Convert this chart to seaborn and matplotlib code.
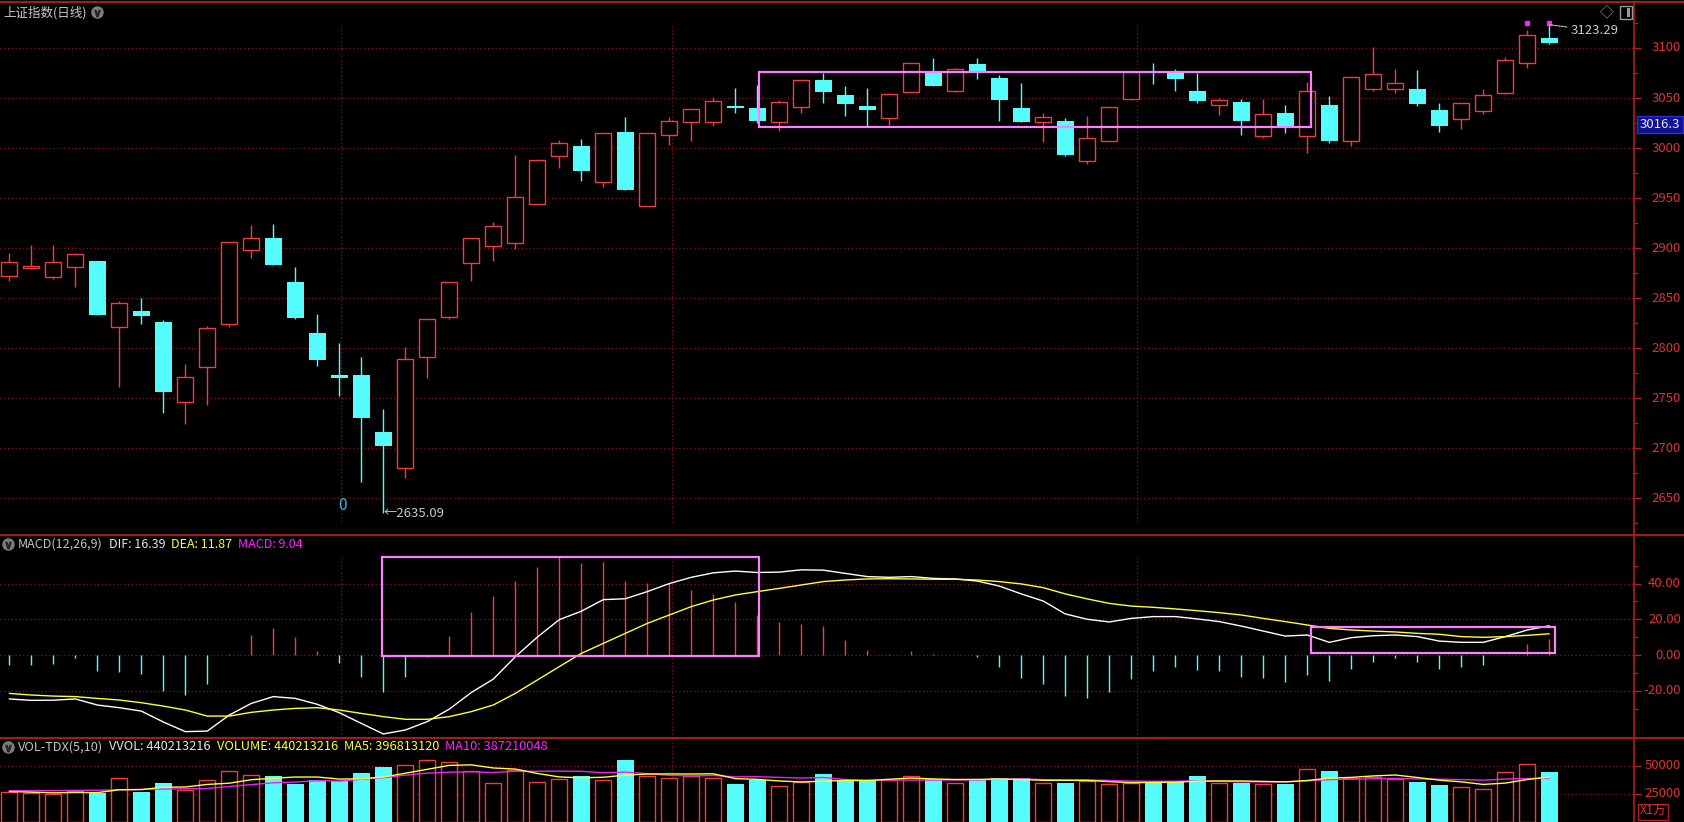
import numpy as np
import pandas as pd
import matplotlib
matplotlib.use("Agg")
import matplotlib.pyplot as plt
import seaborn as sns
from matplotlib.patches import Rectangle
from matplotlib.lines import Line2D
from matplotlib.transforms import blended_transform_factory

# ---------------- data ----------------
opens = [2872.3, 2879.7, 2871.3, 2880.7, 2887.0, 2821.3, 2837.0, 2826.0, 2746.3, 2781.3,
         2823.7, 2897.7, 2910.0, 2866.0, 2815.0, 2773.0, 2773.0, 2716.0, 2679.7, 2790.7,
         2831.3, 2885.3, 2902.3, 2905.3, 2944.3, 2992.3, 3002.0, 2965.7, 3015.7, 2942.3,
         3013.3, 3025.7, 3026.3, 3041.0, 3040.0, 3025.7, 3041.3, 3067.7, 3053.0, 3042.0,
         3030.3, 3056.3, 3077.3, 3057.3, 3084.0, 3070.0, 3040.0, 3026.3, 3027.0, 2987.3,
         3007.3, 3048.7, 3077.0, 3077.0, 3057.0, 3043.3, 3046.0, 3012.3, 3035.0, 3012.3,
         3043.0, 3007.3, 3059.3, 3059.3, 3058.7, 3038.0, 3028.7, 3037.3, 3054.7, 3085.3,
         3109.7]
highs = [2894.7, 2903.0, 2903.0, 2894.7, 2887.5, 2847.3, 2849.7, 2827.7, 2783.7, 2822.0,
         2906.0, 2923.0, 2924.0, 2881.0, 2834.0, 2804.7, 2791.0, 2739.0, 2801.3, 2829.0,
         2866.0, 2910.0, 2926.0, 2993.0, 2988.0, 3008.0, 3009.0, 3015.0, 3030.7, 3015.0,
         3030.7, 3039.0, 3050.7, 3059.7, 3063.0, 3048.0, 3068.0, 3075.3, 3062.0, 3059.7,
         3055.3, 3085.0, 3089.7, 3080.0, 3089.7, 3073.0, 3065.3, 3034.7, 3029.7, 3032.0,
         3041.0, 3077.0, 3085.3, 3078.7, 3075.3, 3049.7, 3048.7, 3049.0, 3043.0, 3066.3,
         3052.0, 3071.0, 3101.3, 3078.7, 3078.0, 3044.7, 3045.0, 3058.7, 3090.7, 3118.0,
         3123.29]
lows = [2867.3, 2879.0, 2869.0, 2861.3, 2833.0, 2761.3, 2823.7, 2735.3, 2724.0, 2743.0,
        2821.3, 2890.3, 2883.0, 2829.0, 2782.0, 2752.0, 2666.3, 2635.09, 2669.7, 2770.3,
        2828.7, 2867.3, 2887.3, 2898.7, 2944.0, 2980.3, 2967.3, 2961.3, 2958.0, 2942.0,
        3002.7, 3007.0, 3022.3, 3034.7, 3025.0, 3017.3, 3035.3, 3045.3, 3032.0, 3020.7,
        3023.0, 3056.0, 3062.0, 3056.0, 3069.3, 3027.3, 3026.0, 3006.3, 2992.0, 2984.0,
        3007.0, 3048.5, 3064.0, 3057.3, 3045.3, 3033.0, 3013.0, 3009.7, 3015.3, 2995.3,
        3005.3, 3002.0, 3057.3, 3055.3, 3042.0, 3016.3, 3019.0, 3034.0, 3054.5, 3080.3,
        3104.0]
closes = [2885.7, 2882.0, 2885.7, 2893.7, 2833.3, 2844.7, 2832.3, 2756.3, 2770.7, 2819.7,
          2905.7, 2909.7, 2883.0, 2830.3, 2788.3, 2770.3, 2730.3, 2702.3, 2788.7, 2828.7,
          2865.7, 2909.7, 2921.7, 2950.7, 2987.7, 3004.7, 2977.0, 3015.0, 2958.3, 3014.7,
          3027.0, 3038.7, 3047.0, 3040.5, 3027.3, 3045.7, 3067.7, 3056.3, 3044.3, 3038.3,
          3053.7, 3084.7, 3062.3, 3078.7, 3076.7, 3048.0, 3026.3, 3030.7, 2993.0, 3010.0,
          3040.7, 3076.3, 3075.5, 3069.0, 3047.3, 3048.0, 3027.0, 3033.7, 3019.7, 3057.0,
          3007.3, 3070.7, 3073.7, 3064.7, 3044.0, 3022.0, 3044.7, 3052.7, 3088.0, 3113.0,
          3105.3]

# volume in units of 万 (x10^4)
volume = [26500, 25600, 24300, 27200, 25600, 39000, 26500, 34600, 28100, 37100,
          44900, 41800, 40900, 33700, 37100, 35900, 43100, 48700, 50600, 54900,
          53400, 45300, 34600, 45600, 35600, 38100, 40900, 37100, 55200, 40900,
          38400, 40300, 38400, 33700, 37100, 31500, 35600, 42100, 37100, 36200,
          37500, 40900, 38100, 34600, 36800, 39000, 39000, 34600, 34600, 36200,
          33400, 34600, 35900, 35600, 40300, 34600, 34600, 33700, 33700, 46500,
          44900, 38400, 40000, 37800, 35600, 32800, 30600, 28700, 44000, 51200,
          44021]
vol_ma5 = [26800, 26200, 25600, 25900, 25800, 28300, 28500, 30600, 30800, 33100,
           34200, 37300, 38600, 39700, 39700, 37900, 38100, 39700, 43100, 46600,
           50100, 50600, 47800, 46800, 42900, 39800, 39000, 39500, 41400, 42400,
           42500, 42400, 42600, 38300, 37600, 36200, 35300, 36000, 36700, 36500,
           37700, 38800, 38000, 37500, 37600, 37900, 37500, 36800, 36800, 36700,
           35600, 34700, 34900, 35100, 36000, 36200, 36200, 35800, 35400, 36600,
           38700, 39400, 40700, 41500, 39300, 36900, 35400, 33100, 34300, 37500,
           39681]
vol_ma10 = [27500, 27500, 27600, 27800, 27900, 28400, 28600, 29000, 29200, 29500,
            31300, 32900, 34600, 35200, 36400, 36100, 37700, 39100, 41400, 43200,
            44000, 44400, 43700, 44900, 44800, 45000, 44800, 43600, 44100, 42700,
            41200, 40700, 41100, 39900, 40000, 39400, 38800, 39300, 37500, 37000,
            37000, 37000, 37000, 37100, 37000, 37800, 38100, 37400, 37100, 37100,
            36700, 36100, 35900, 36000, 36300, 35900, 35400, 35400, 35300, 36300,
            37400, 37800, 38200, 38500, 38000, 37800, 37400, 36900, 37900, 38400,
            38721]

dif = [-24.6, -25.4, -25.3, -24.6, -28.0, -29.5, -31.4, -37.5, -42.9, -42.6,
       -33.6, -27.1, -23.3, -24.3, -27.6, -32.3, -38.3, -44.2, -42.0, -37.3,
       -30.3, -21.0, -13.5, -1.0, 10.0, 19.8, 24.5, 31.0, 31.5, 35.5,
       40.0, 43.5, 46.0, 47.0, 46.2, 46.4, 47.7, 47.5, 45.7, 43.9,
       43.5, 43.9, 42.9, 42.6, 41.4, 38.6, 34.2, 30.2, 23.0, 20.0,
       18.5, 20.5, 21.5, 21.5, 20.2, 18.7, 16.2, 13.4, 10.6, 11.2,
       7.1, 9.7, 10.8, 11.2, 10.3, 7.8, 7.1, 7.1, 10.3, 14.0,
       16.39]
dea = [-21.5, -22.4, -23.0, -23.3, -24.3, -25.2, -26.7, -28.6, -30.8, -34.2,
       -34.2, -32.1, -30.8, -29.9, -29.5, -30.8, -32.7, -34.5, -36.0, -36.0,
       -34.5, -31.7, -28.0, -21.5, -14.0, -6.5, 0.9, 6.5, 12.1, 17.7,
       22.4, 27.1, 30.8, 33.6, 35.5, 37.3, 39.2, 41.1, 42.0, 42.6,
       42.7, 42.6, 42.4, 42.4, 42.0, 41.1, 39.8, 37.7, 34.2, 31.4,
       28.9, 27.4, 26.7, 25.8, 24.8, 23.7, 22.4, 20.5, 18.7, 16.8,
       14.9, 14.0, 13.4, 12.9, 12.1, 11.6, 10.3, 9.9, 10.3, 11.0,
       11.87]
macd_hist = [-5.6, -5.6, -5.0, -1.9, -8.8, -9.3, -10.6, -20.0, -22.4, -16.2,
             0.3, 11.2, 15.3, 10.3, 2.4, -4.3, -12.5, -20.5, -12.5, -1.3,
             10.6, 24.3, 33.0, 41.6, 49.5, 54.7, 51.3, 51.9, 41.6, 40.5,
             40.5, 36.4, 34.2, 29.5, 22.4, 18.7, 17.4, 16.2, 8.4, 2.8,
             0.4, 2.2, 0.3, 0.1, -1.3, -6.5, -12.7, -16.2, -22.8, -24.3,
             -20.5, -13.4, -8.8, -6.5, -8.4, -8.8, -12.1, -12.9, -14.9, -11.2,
             -14.4, -8.0, -3.7, -1.9, -3.7, -7.7, -6.5, -5.6, 0.0, 6.2,
             9.04]

price_ticks = [2650, 2700, 2750, 2800, 2850, 2900, 2950, 3000, 3050, 3100]
macd_ticks = [40, 20, 0, -20]
vol_ticks = [50000, 25000]
month_lines = [15.08, 30.12, 51.24]

# annotation boxes drawn on the chart (data coordinates)
price_box = (34.06, 3021.3, 59.17, 3076.0)
macd_box1 = (16.96, -0.4, 34.07, 55.0)
macd_box2 = (59.16, 0.95, 70.25, 15.85)

# ---------------- style ----------------
sns.set_theme(style="dark")
plt.rcParams["font.family"] = ["Noto Sans CJK SC", "DejaVu Sans"]
plt.rcParams["axes.unicode_minus"] = False

BG = "black"
RED = "#f03c3c"
CYAN = "#54fcfc"
GRID = "#8a1212"
AXIS = "#b41e1e"
TICK = "#dc3232"
PINK = "#ff80ff"
YEL = "#ffff33"
MAG = "#ee22ee"

W, H = 1684, 822
fig = plt.figure(figsize=(W / 100, H / 100), dpi=100, facecolor=BG)

def fx(px):
    return px / W

def fy(py):
    return 1 - py / H

AX_R = 1634
axw = AX_R / W
ax_p = fig.add_axes([0, fy(535), axw, fy(2.5) - fy(535)])
ax_m = fig.add_axes([0, fy(738), axw, fy(535) - fy(738)])
ax_v = fig.add_axes([0, 0, axw, fy(738)])

n = len(closes)
idx = np.arange(n)
XL = (-9.3 / 22, (AX_R - 9.3) / 22)

for ax in (ax_p, ax_m, ax_v):
    ax.set_facecolor(BG)
    ax.grid(False)
    ax.set_xlim(*XL)
    for s in ("top", "bottom", "left"):
        ax.spines[s].set_visible(False)
    ax.spines["right"].set_color(AXIS)
    ax.spines["right"].set_linewidth(1.2)
    ax.set_xticks([])
    ax.yaxis.set_ticks_position("right")
    ax.tick_params(axis="y", which="both", colors=AXIS, direction="out",
                   labelright=False, labelleft=False, width=1)
    ax.tick_params(axis="y", which="major", length=5)
    ax.tick_params(axis="y", which="minor", length=3)

ax_p.set_ylim(2613, 3145.5)
ax_m.set_ylim(-46.47, 67.19)
ax_v.set_ylim(-446, 74554)

df = pd.DataFrame({"i": idx, "o": opens, "h": highs, "l": lows, "c": closes,
                   "v": volume, "ma5": vol_ma5, "ma10": vol_ma10,
                   "dif": dif, "dea": dea, "hist": macd_hist})
up = df["c"] >= df["o"]
dn = ~up

dot = (0, (1, 2))
# ---------------- price panel ----------------
ax_p.hlines(price_ticks, XL[0], XL[1], colors=GRID, linestyles=dot, lw=0.9, zorder=1)
ax_p.vlines(month_lines, 2626, 3123, colors=GRID, linestyles=dot, lw=0.9, zorder=1)

bw = 0.74
u = df[up]
d = df[dn]
ax_p.vlines(u["i"], u["l"], u["h"], colors=RED, lw=1.0, zorder=2)
ax_p.bar(u["i"], np.maximum(u["c"] - u["o"], 0.9), bottom=u["o"], width=bw,
         facecolor=BG, edgecolor=RED, linewidth=1.0, zorder=3)
ax_p.vlines(d["i"], d["l"], d["h"], colors=CYAN, lw=1.0, zorder=2)
ax_p.bar(d["i"], np.maximum(d["o"] - d["c"], 1.2), bottom=d["c"], width=bw + 0.04,
         facecolor=CYAN, edgecolor=CYAN, linewidth=0, zorder=3)

ax_p.add_patch(Rectangle((price_box[0], price_box[1]), price_box[2] - price_box[0],
                         price_box[3] - price_box[1], fill=False, ec=PINK, lw=1.6, zorder=5))

ax_p.set_yticks(price_ticks)
ax_p.set_yticks([t + 25 for t in [2600] + price_ticks], minor=True)
bt = blended_transform_factory(ax_p.transAxes, ax_p.transData)
lx = 1681 / AX_R
for t in price_ticks:
    ax_p.text(lx, t, str(t), transform=bt, ha="right", va="center", color=TICK,
              fontsize=9.5, clip_on=False)

# markers and labels
ax_p.plot([69, 70], [3125.2, 3125.2], ls="none", marker="s", ms=2.6, color="#ff22ff", zorder=6)
ax_p.text(15.15, 2643, "0", color="#3fb2e6", fontsize=11, ha="center", va="center", zorder=6)
ax_p.text(17, 2635.0, "←2635.09", color="#c8c8c8", fontsize=9.5, ha="left", va="center", zorder=6)
ax_p.annotate("3123.29", xy=(70, 3123.29), xytext=(70.95, 3117.5), color="#c8c8c8",
              fontsize=9.5, ha="left", va="center", zorder=6,
              arrowprops=dict(arrowstyle="-", color="#c8c8c8", lw=0.8,
                              linestyle=(0, (2, 1)), shrinkA=0, shrinkB=0))

# ---------------- MACD panel ----------------
ax_m.hlines(macd_ticks, XL[0], XL[1], colors=GRID, linestyles=dot, lw=0.9, zorder=1)
ax_m.vlines(month_lines, -46.5, 55, colors=GRID, linestyles=dot, lw=0.9, zorder=1)
hp = df[df["hist"] >= 0]
hn = df[df["hist"] < 0]
ax_m.vlines(hp["i"], 0, hp["hist"], colors=RED, lw=1.0, zorder=2)
ax_m.vlines(hn["i"], 0, hn["hist"], colors=CYAN, lw=1.0, zorder=2)
sns.lineplot(data=df, x="i", y="dif", ax=ax_m, color="white", lw=1.0, zorder=3, legend=False)
sns.lineplot(data=df, x="i", y="dea", ax=ax_m, color=YEL, lw=1.0, zorder=3, legend=False)
for b in (macd_box1, macd_box2):
    ax_m.add_patch(Rectangle((b[0], b[1]), b[2] - b[0], b[3] - b[1], fill=False,
                             ec=PINK, lw=1.6, zorder=5))
ax_m.set_yticks(macd_ticks)
ax_m.set_yticks([50, 30, 10, -10, -30], minor=True)
bt = blended_transform_factory(ax_m.transAxes, ax_m.transData)
for t in macd_ticks:
    ax_m.text(lx, t, f"{t:.2f}", transform=bt, ha="right", va="center", color=TICK,
              fontsize=9.5, clip_on=False)
ax_m.set_xlabel("")
ax_m.set_ylabel("")
ax_m.set_xlim(*XL)
ax_m.set_xticks([])

# ---------------- volume panel ----------------
ax_v.hlines(vol_ticks, XL[0], XL[1], colors=GRID, linestyles=dot, lw=0.9, zorder=1)
ax_v.vlines(month_lines[1:], -446, 74554, colors=GRID, linestyles=dot, lw=0.9, zorder=1)
vu = df[up]
vd = df[dn]
ax_v.bar(vu["i"], vu["v"], width=bw, facecolor=BG, edgecolor=RED, linewidth=1.0, zorder=2)
ax_v.bar(vd["i"], vd["v"], width=bw + 0.04, facecolor=CYAN, edgecolor=CYAN, linewidth=0, zorder=2)
sns.lineplot(data=df, x="i", y="ma10", ax=ax_v, color=MAG, lw=1.0, zorder=3, legend=False)
sns.lineplot(data=df, x="i", y="ma5", ax=ax_v, color=YEL, lw=1.0, zorder=4, legend=False)
ax_v.set_yticks(vol_ticks)
bt = blended_transform_factory(ax_v.transAxes, ax_v.transData)
for t in vol_ticks:
    ax_v.text(lx, t, str(t), transform=bt, ha="right", va="center", color=TICK,
              fontsize=9.5, clip_on=False)
ax_v.set_xlabel("")
ax_v.set_ylabel("")
ax_v.set_xlim(*XL)
ax_v.set_xticks([])

# ---------------- frame lines ----------------
for yy in (2.5, 535, 738):
    fig.add_artist(Line2D([0, 1], [fy(yy), fy(yy)], transform=fig.transFigure,
                          color=AXIS, lw=1.3))

# ---------------- titles ----------------
def icon(px, py):
    fig.add_artist(Line2D([fx(px)], [fy(py)], transform=fig.transFigure, ls="none",
                          marker="o", ms=8, mfc="#7c7c7c", mec="#7c7c7c"))
    fig.add_artist(Line2D([fx(px)], [fy(py) - 0.001], transform=fig.transFigure, ls="none",
                          marker=r"$\vee$", ms=4.5, mfc="#262626", mec="#262626"))

renderer = fig.canvas.get_renderer()

def chain(x0, py, parts, size, gap=6):
    x = x0
    for txt, col in parts:
        t = fig.text(fx(x), fy(py), txt, color=col, fontsize=size, ha="left", va="center")
        bb = t.get_window_extent(renderer=renderer)
        x += bb.width + gap

fig.text(fx(3), fy(12.5), "上证指数(日线)", color="#c8c8c8", fontsize=9, ha="left", va="center")
icon(97, 12.5)
fig.text(fx(1607), fy(12.5), "◇", color="#9a9a9a", fontsize=10, ha="center", va="center")
fig.add_artist(Rectangle((fx(1620), fy(19)), fx(12), fy(6) - fy(19), transform=fig.transFigure,
                         fill=False, ec="#9a9a9a", lw=1.0))
fig.add_artist(Rectangle((fx(1627), fy(17)), fx(3), fy(8) - fy(17), transform=fig.transFigure,
                         fc="#9a9a9a", ec="none"))

icon(7.5, 544)
chain(18, 544, [("MACD(12,26,9)", "#c0c0c0"),
                (f"DIF: {dif[-1]:.2f}", "#e6e6e6"),
                (f"DEA: {dea[-1]:.2f}", YEL),
                (f"MACD: {macd_hist[-1]:.2f}", "#ff22ff")], 9, gap=6)

icon(7.5, 747)
chain(18, 747, [("VOL-TDX(5,10)", "#c0c0c0"),
                ("VVOL: 440213216", "#e6e6e6"),
                ("VOLUME: 440213216", YEL),
                ("MA5: 396813120", YEL),
                ("MA10: 387210048", "#ff22ff")], 9.2, gap=6)

# current price box and unit box on the right axis
fig.text(fx(1660), fy(124.5), "3016.3", color="#e8e8ff", fontsize=9.5, ha="center", va="center",
         bbox=dict(boxstyle="square,pad=0.18", fc="#12128e", ec="#2f2fd6", lw=1.0))
fig.text(fx(1653), fy(811.5), "X1万", color=TICK, fontsize=9, ha="center", va="center",
         bbox=dict(boxstyle="square,pad=0.12", fc=BG, ec=AXIS, lw=1.0))

fig.savefig("out.png", dpi=100, facecolor=BG)
